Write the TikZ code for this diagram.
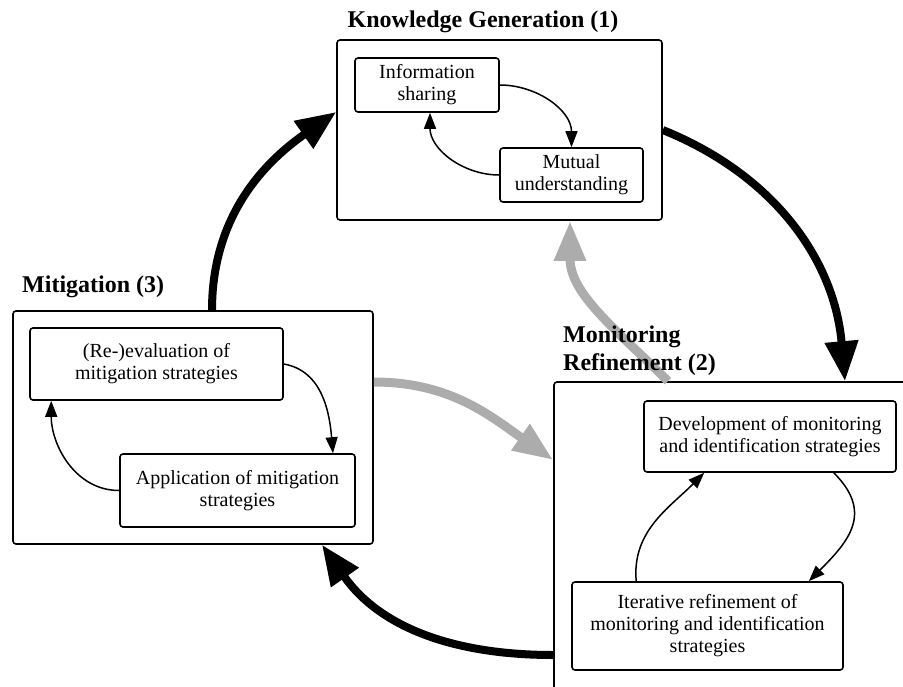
\documentclass[tikz,border=0pt]{standalone}
\usepackage{fontspec}
\setmainfont{Liberation Serif}
\usetikzlibrary{arrows.meta}
\definecolor{lightarrow}{RGB}{172,172,172}
\begin{document}
\begin{tikzpicture}[x=1pt,y=1pt,
  outerbox/.style={draw, line width=1.6pt, rounded corners=3pt, inner sep=0pt},
  innerbox/.style={draw, line width=1.6pt, rounded corners=3pt, fill=white, align=center,
    font=\fontsize{20}{22}\selectfont, inner sep=0pt},
  titletext/.style={font=\fontsize{24}{28}\selectfont\bfseries, align=left, inner sep=0pt},
  smallarrow/.style={line width=1.5pt, -{Triangle[width=12pt,length=16pt]}},
  bigarrow/.style={line width=8pt, -{Triangle[width=32pt,length=40pt]}},
  grayarrow/.style={line width=9pt, draw=lightarrow, -{Triangle[width=30pt,length=40pt,fill=lightarrow]}}]
\useasboundingbox (0,0) rectangle (903,-686);
\clip (0,0) rectangle (903,-686);
% outer boxes
\node[outerbox, minimum width=325pt, minimum height=180pt] (KG) at (499.5,-130) {};
\node[outerbox, minimum width=360pt, minimum height=233pt] (MIT) at (193,-427.5) {};
\node[outerbox, minimum width=380pt, minimum height=340pt] (MR) at (744,-552) {};
% inner boxes
\node[innerbox, minimum width=144pt, minimum height=54pt] (IS) at (427,-85) {Information\\sharing};
\node[innerbox, minimum width=143pt, minimum height=54pt] (MU) at (571.5,-175) {Mutual\\understanding};
\node[innerbox, minimum width=253pt, minimum height=72pt] (RE) at (156.5,-364) {(Re-)evaluation of\\mitigation strategies};
\node[innerbox, minimum width=235pt, minimum height=73pt] (AP) at (237.5,-490.5) {Application of mitigation\\strategies};
\node[innerbox, minimum width=252pt, minimum height=71pt] (DV) at (770,-436.5) {Development of monitoring\\and identification strategies};
\node[innerbox, minimum width=271pt, minimum height=88pt] (IT) at (707.5,-626) {Iterative refinement of\\monitoring and identification\\strategies};
% gray arrows
\draw[grayarrow] ([xshift=-76pt]MR.north) to[out=135,in=-90] ([xshift=70.5pt]KG.south);
\draw[grayarrow] ([yshift=45.5pt]MIT.east) to[out=0,in=145] ([yshift=92pt]MR.west);
% titles
\node[titletext, anchor=center] (KGT) at (483,-22) {Knowledge Generation (1)};
\node[titletext, anchor=west] (MITT) at (22,-287) {Mitigation (3)};
\node[titletext, anchor=west] (MRT) at (563,-351) {Monitoring\\Refinement (2)};
% black arrows
\draw[bigarrow] (KG.east) to[out=-22,in=95] ([xshift=101pt]MR.north);
\draw[bigarrow] ([xshift=19pt]MIT.north) to[out=90,in=-145] ([yshift=18pt]KG.west);
\draw[bigarrow] ([yshift=-103pt]MR.west) to[out=180,in=-55] ([xshift=129pt]MIT.south);
% inner arrows
\draw[smallarrow] (IS.east) to[out=0,in=90] (MU.north);
\draw[smallarrow] (MU.west) to[out=180,in=-90] ([xshift=3pt]IS.south);
\draw[smallarrow] (RE.east) to[out=-10,in=95] ([xshift=95.5pt]AP.north);
\draw[smallarrow] (AP.west) to[out=180,in=-90] ([xshift=22pt]RE.south west);
\draw[smallarrow] ([xshift=-63pt]DV.south east) to[out=-45,in=45,looseness=1.3] ([xshift=-35pt]IT.north east);
\draw[smallarrow] ([xshift=65pt]IT.north west) to[out=95,in=-135] ([xshift=61pt]DV.south west);
\end{tikzpicture}
\end{document}
